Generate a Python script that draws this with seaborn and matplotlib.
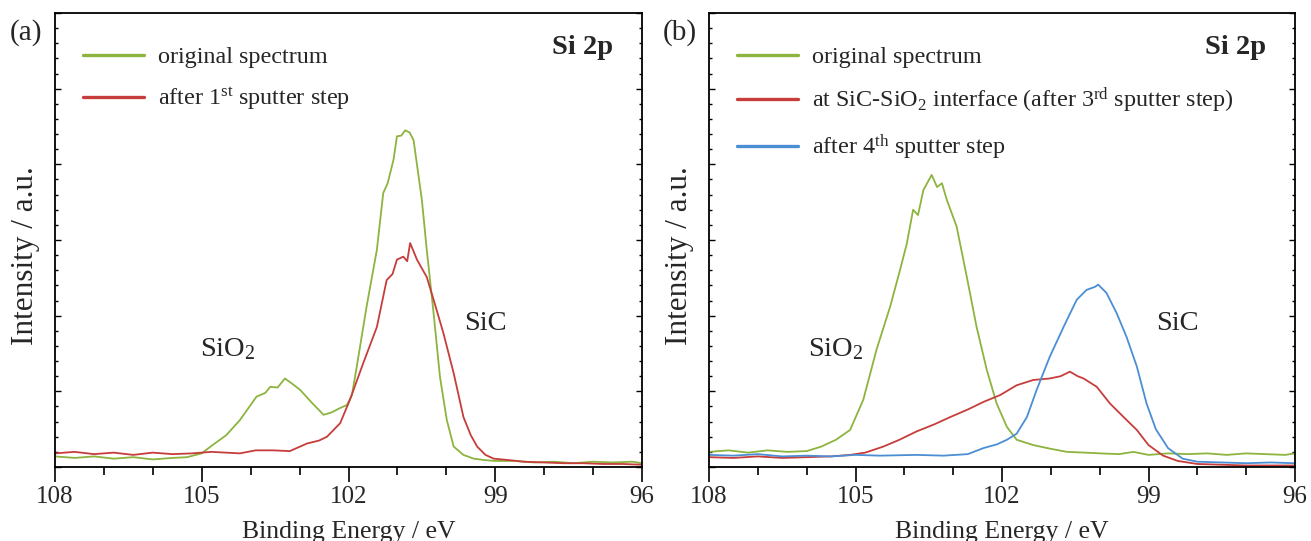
import matplotlib
matplotlib.use("Agg")
import matplotlib.pyplot as plt
import seaborn as sns
import pandas as pd
from matplotlib.ticker import MultipleLocator

# ---------------- data (binding energy in eV, intensity in a.u.) ----------------
a_orig_x = [108.0, 107.6, 107.2, 106.8, 106.4, 106.0, 105.6, 105.3, 105.0, 104.8, 104.5, 104.22,
            103.88, 103.7, 103.6, 103.45, 103.3, 103.15, 102.99, 102.75, 102.51, 102.35, 102.17,
            102.03, 101.93, 101.83, 101.63, 101.42, 101.29, 101.2, 101.08, 101.01, 100.92, 100.84,
            100.75, 100.67, 100.5, 100.4, 100.26, 100.13, 99.99, 99.85, 99.65, 99.44, 99.2, 99.0,
            98.6, 98.2, 97.8, 97.4, 97.0, 96.6, 96.2, 96.0]
a_orig_y = [0.14, 0.12, 0.14, 0.11, 0.13, 0.10, 0.12, 0.13, 0.18, 0.28, 0.42, 0.62,
            0.93, 0.98, 1.06, 1.05, 1.17, 1.10, 1.02, 0.85, 0.69, 0.72, 0.78,
            0.82, 0.95, 1.33, 2.12, 2.87, 3.62, 3.75, 4.06, 4.37, 4.38, 4.45,
            4.42, 4.32, 3.53, 2.87, 2.03, 1.19, 0.62, 0.27, 0.16, 0.11, 0.09, 0.08,
            0.08, 0.06, 0.07, 0.05, 0.07, 0.06, 0.07, 0.05]

a_sput_x = [108.0, 107.6, 107.2, 106.8, 106.4, 106.0, 105.6, 105.2, 104.8, 104.22, 103.9, 103.54,
            103.2, 102.85, 102.6, 102.44, 102.17, 101.97, 101.7, 101.42, 101.22, 101.1, 101.01,
            100.88, 100.8, 100.74, 100.6, 100.4, 100.26, 100.06, 99.85, 99.65, 99.5, 99.37, 99.2,
            99.03, 98.7, 98.42, 98.0, 97.6, 97.2, 96.8, 96.4, 96.0]
a_sput_y = [0.18, 0.20, 0.17, 0.19, 0.16, 0.19, 0.17, 0.18, 0.20, 0.18, 0.22, 0.22,
            0.21, 0.31, 0.35, 0.40, 0.58, 0.89, 1.37, 1.85, 2.47, 2.55, 2.74,
            2.78, 2.72, 2.96, 2.74, 2.51, 2.21, 1.77, 1.24, 0.66, 0.42, 0.27, 0.16,
            0.11, 0.09, 0.07, 0.06, 0.05, 0.05, 0.04, 0.04, 0.03]

b_orig_x = [108.0, 107.6, 107.2, 106.8, 106.4, 106.0, 105.7, 105.4, 105.11, 104.84, 104.57, 104.29,
            104.09, 103.95, 103.82, 103.72, 103.61, 103.44, 103.33, 103.23, 103.13, 102.93, 102.72,
            102.52, 102.31, 102.11, 101.9, 101.7, 101.36, 101.0, 100.67, 100.3, 99.99, 99.6, 99.31,
            99.0, 98.6, 98.2, 97.8, 97.4, 97.0, 96.6, 96.2, 96.0]
b_orig_y = [0.20, 0.22, 0.19, 0.22, 0.20, 0.21, 0.27, 0.36, 0.49, 0.89, 1.55, 2.12,
            2.60, 2.95, 3.40, 3.33, 3.66, 3.86, 3.70, 3.75, 3.53, 3.18, 2.51,
            1.85, 1.28, 0.84, 0.53, 0.36, 0.29, 0.24, 0.20, 0.19, 0.18, 0.17, 0.20,
            0.16, 0.18, 0.17, 0.18, 0.16, 0.18, 0.17, 0.16, 0.18]

b_int_x = [108.0, 107.5, 107.0, 106.5, 106.0, 105.5, 105.11, 104.8, 104.43, 104.1, 103.75, 103.4,
           103.06, 102.7, 102.38, 102.04, 101.7, 101.36, 101.02, 100.8, 100.61, 100.45, 100.33,
           100.06, 99.79, 99.51, 99.24, 99.0, 98.7, 98.4, 98.0, 97.5, 97.0, 96.5, 96.0]
b_int_y = [0.13, 0.12, 0.14, 0.12, 0.13, 0.14, 0.16, 0.19, 0.27, 0.36, 0.47, 0.56,
           0.66, 0.76, 0.86, 0.95, 1.08, 1.15, 1.17, 1.20, 1.26, 1.20, 1.17,
           1.06, 0.84, 0.66, 0.49, 0.29, 0.15, 0.08, 0.04, 0.03, 0.02, 0.02, 0.02]

b_4th_x = [108.0, 107.5, 107.0, 106.5, 106.0, 105.5, 105.0, 104.5, 103.75, 103.2, 102.7, 102.38,
           102.1, 101.9, 101.7, 101.49, 101.29, 101.02, 100.74, 100.47, 100.27, 100.1, 100.03,
           99.86, 99.65, 99.45, 99.24, 99.04, 98.85, 98.6, 98.3, 98.0, 97.5, 97.0, 96.5, 96.0]
b_4th_y = [0.16, 0.15, 0.17, 0.14, 0.15, 0.14, 0.16, 0.15, 0.16, 0.15, 0.17, 0.25,
           0.30, 0.36, 0.44, 0.66, 1.02, 1.46, 1.85, 2.21, 2.34, 2.38, 2.41,
           2.30, 2.03, 1.72, 1.33, 0.84, 0.50, 0.25, 0.11, 0.07, 0.06, 0.05, 0.06, 0.05]

labels_a = ["original spectrum", "after 1$^{\\mathrm{st}}$ sputter step"]
labels_b = ["original spectrum",
            "at SiC-SiO$_{\\mathrm{2}}$ interface (after 3$^{\\mathrm{rd}}$ sputter step)",
            "after 4$^{\\mathrm{th}}$ sputter step"]
x_ticks = [108, 105, 102, 99, 96]
x_label = "Binding Energy / eV"
y_label = "Intensity / a.u."

GREEN, RED, BLUE = "#8cb43e", "#c63d3b", "#4b8ed4"

# ---------------- style ----------------
sns.set_theme(style="ticks")
plt.rcParams["font.family"] = ["Liberation Serif", "DejaVu Serif"]
plt.rcParams["mathtext.fontset"] = "custom"
plt.rcParams["mathtext.rm"] = "Liberation Serif"
plt.rcParams["mathtext.it"] = "Liberation Serif:italic"
plt.rcParams["mathtext.bf"] = "Liberation Serif:bold"

W, H = 1311, 541
fig = plt.figure(figsize=(W / 100, H / 100), dpi=100)
ax1 = fig.add_axes([55 / W, 1 - 467 / H, 587 / W, 454 / H])
ax2 = fig.add_axes([709 / W, 1 - 467 / H, 586 / W, 454 / H])


def long_df(series):
    frames = []
    for name, xs, ys in series:
        frames.append(pd.DataFrame({"E": xs, "I": ys, "s": name}))
    return pd.concat(frames, ignore_index=True)


df_a = long_df([(labels_a[0], a_orig_x, a_orig_y), (labels_a[1], a_sput_x, a_sput_y)])
df_b = long_df([(labels_b[0], b_orig_x, b_orig_y), (labels_b[1], b_int_x, b_int_y),
                (labels_b[2], b_4th_x, b_4th_y)])

sns.lineplot(data=df_a, x="E", y="I", hue="s", palette=[GREEN, RED], estimator=None,
             lw=1.3, ax=ax1)
sns.lineplot(data=df_b, x="E", y="I", hue="s", palette=[GREEN, RED, BLUE], estimator=None,
             lw=1.3, ax=ax2)

for ax, lab, pan, sio2x, sicx in [(ax1, labels_a, "(a)", 104.46, 99.2),
                                  (ax2, labels_b, "(b)", 105.4, 98.4)]:
    ax.set_xlim(108, 96)
    ax.set_ylim(0, 6)
    ax.set_xticks(x_ticks)
    ax.set_xticklabels([str(t) for t in x_ticks], fontsize=18)
    ax.xaxis.set_minor_locator(MultipleLocator(1))
    ax.set_yticks(range(7))
    ax.set_yticklabels([])
    ax.yaxis.set_minor_locator(MultipleLocator(0.2))
    ax.tick_params(axis="x", which="major", direction="out", length=11, width=1.2,
                   color="black", pad=3, top=False)
    ax.tick_params(axis="x", which="minor", direction="out", length=5.5, width=1.2,
                   color="black", top=False)
    ax.tick_params(axis="y", which="major", direction="in", length=4.5, width=1.0,
                   left=True, right=True, color="black")
    ax.tick_params(axis="y", which="minor", direction="in", length=2.2, width=1.0,
                   left=True, right=True, color="black")
    for sp in ax.spines.values():
        sp.set_visible(True)
        sp.set_color("black")
        sp.set_linewidth(1.3)
    ax.set_xlabel(x_label, fontsize=18.5)
    ax.xaxis.set_label_coords(0.5, -0.143)
    ax.xaxis.label.set_va("center")
    ax.set_ylabel(y_label, fontsize=22.5)
    ax.yaxis.set_label_coords(-0.051, 0.465)
    ax.yaxis.label.set_va("center")

    ax.text(sio2x, 1.56, "SiO$_{\\mathrm{2}}$", fontsize=20.5, ha="center", va="center")
    ax.text(sicx, 1.9, "SiC", fontsize=20.5, ha="center", va="center")
    ax.text(0.95, 0.925, "Si 2p", transform=ax.transAxes, fontsize=20.5, fontweight="bold",
            ha="right", va="center")

    leg = ax.legend(loc="upper left", bbox_to_anchor=(0.048, 0.927), frameon=False,
                    fontsize=17.4, handlelength=2.5, handletextpad=0.6, labelspacing=0.72,
                    borderpad=0, borderaxespad=0)
    for line in leg.get_lines():
        line.set_linewidth(2.4)

fig.text(10 / W, 1 - 33 / H, "(a)", fontsize=21, ha="left", va="center")
fig.text(663 / W, 1 - 33 / H, "(b)", fontsize=21, ha="left", va="center")

fig.savefig("out.png", dpi=100, facecolor="white")
